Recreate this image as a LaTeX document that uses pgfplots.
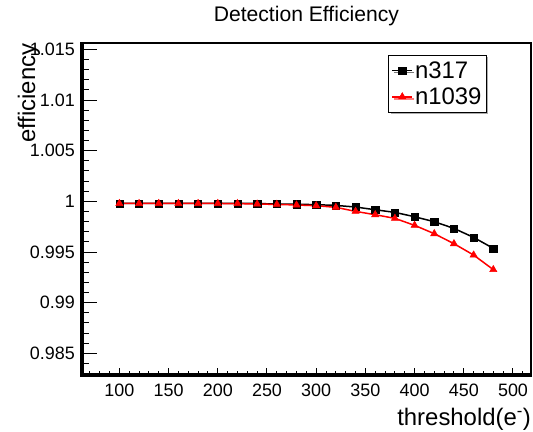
\documentclass[border=0pt]{standalone}
\usepackage{pgfplots}
\pgfplotsset{compat=1.18}
\usepackage{fontspec}
\setmainfont{Liberation Sans}
\usetikzlibrary{shadows}
\pgfplotsset{
  common/.style={
    at={(82bp,57bp)}, anchor=south west,
    scale only axis, width=448.7bp, height=331.7bp,
    xmin=62, xmax=518, ymin=0.98286, ymax=1.0156,
    /pgf/number format/assume math mode=true,
    tick align=inside, xtick pos=bottom, ytick pos=left,
    every tick/.style={black, line width=1bp},
    tick label style={font=\fontsize{18}{21}\selectfont},
  }
}
\begin{document}
\begin{tikzpicture}
\path[use as bounding box] (0,0) rectangle (533bp,432bp);
\begin{axis}[
  common,
  axis line style={line width=2bp},
  xtick=\empty,
  ytick={0.985,0.99,0.995,1,1.005,1.01,1.015},
  yticklabels={0.985,0.99,0.995,1,1.005,1.01,1.015},
  minor ytick={0.983,0.984,0.986,0.987,0.988,0.989,0.991,0.992,0.993,0.994,0.996,0.997,0.998,0.999,1.001,1.002,1.003,1.004,1.006,1.007,1.008,1.009,1.011,1.012,1.013,1.014},
  major tick length=15bp, minor tick length=7.5bp,
  yticklabel style={anchor=east, inner sep=0pt, xshift=-7bp},
  title={Detection Efficiency},
  title style={font=\fontsize{21.2}{25}\selectfont, at={(axis description cs:0.5,1.0482)}, anchor=base, inner sep=0pt},
  xlabel={threshold(e\textsuperscript{-})},
  xlabel style={font=\fontsize{24}{28}\selectfont, at={(axis description cs:1.001,-0.1522)}, anchor=base east, inner sep=0pt},
  ylabel={efficiency},
  ylabel style={font=\fontsize{24}{28}\selectfont, at={(axis description cs:-0.1047,1)}, anchor=base east, inner sep=0pt},
  legend style={at={(axis description cs:0.682,0.966)}, anchor=north west,
    draw=black, line width=1bp, fill=white,
    drop shadow={shadow xshift=2bp, shadow yshift=-2bp, fill=black!65},
    font=\fontsize{24}{28}\selectfont, cells={anchor=west},
    inner xsep=3bp, inner ysep=4.5bp, row sep=4bp},
  legend image code/.code={\draw[mark repeat=2,mark phase=2,#1] plot coordinates {(0bp,0bp) (10bp,0bp) (20bp,0bp)};},
  after end axis/.code={\draw[line width=3.3bp, line cap=rect] (rel axis cs:0,1) -- (rel axis cs:0,0) -- (rel axis cs:1,0);},
]
\addplot[black, line width=1.5bp, mark=square*, mark size=3.6bp, mark options={solid, line width=0.5bp}] coordinates {
(100,0.99980) (120,0.99980) (140,0.99980) (160,0.99980) (180,0.99980)
(200,0.99980) (220,0.99980) (240,0.99979) (260,0.99973) (280,0.99972)
(300,0.99967) (320,0.99960) (340,0.99944) (360,0.99917) (380,0.99891)
(400,0.99848) (420,0.99799) (440,0.99733) (460,0.99644) (480,0.99536)
};
\addlegendentry{n317}
\addplot[red, line width=1.5bp, mark=triangle*, mark size=4.2bp, mark options={solid, line width=0.5bp}] coordinates {
(100,0.99979) (120,0.99979) (140,0.99979) (160,0.99979) (180,0.99979)
(200,0.99979) (220,0.99978) (240,0.99973) (260,0.99970) (280,0.99964)
(300,0.99957) (320,0.99941) (340,0.99901) (360,0.99868) (380,0.99832)
(400,0.99763) (420,0.99681) (440,0.99582) (460,0.99470) (480,0.99326)
};
\addlegendentry{n1039}
\end{axis}
\begin{axis}[
  common,
  axis line style={draw=none},
  ytick=\empty,
  xtick={100,150,200,250,300,350,400,450,500},
  xticklabels={100,150,200,250,300,350,400,450,500},
  minor xtick={70,80,90,110,120,130,140,160,170,180,190,210,220,230,240,260,270,280,290,310,320,330,340,360,370,380,390,410,420,430,440,460,470,480,490,510},
  major tick length=7bp, minor tick length=3.5bp,
  xticklabel style={anchor=base, inner sep=0pt, yshift=-21.7bp},
]
\end{axis}
\end{tikzpicture}
\end{document}
